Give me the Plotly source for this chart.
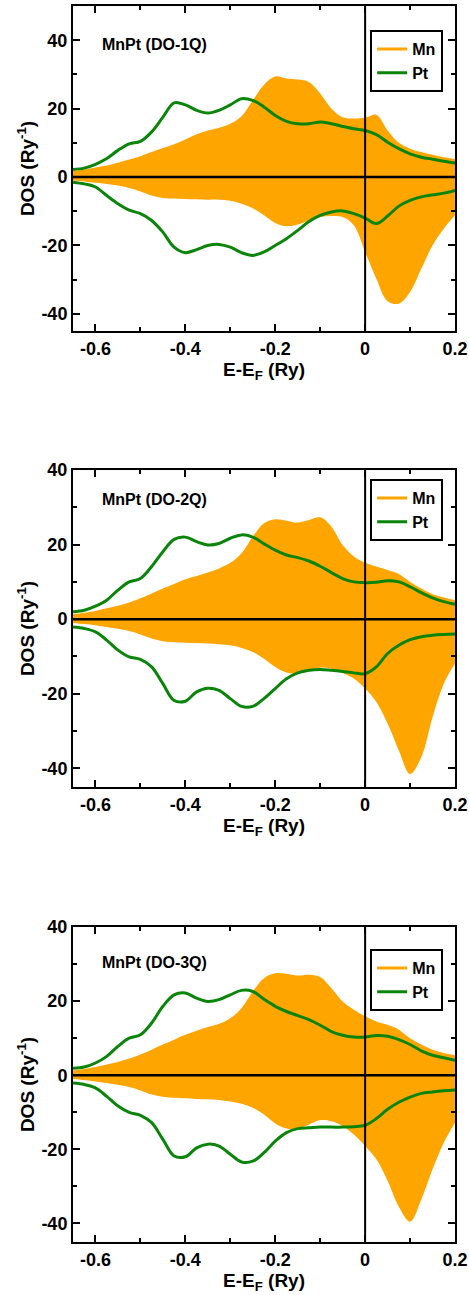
import plotly.graph_objects as go

# Energy grid (Ry, relative to E_F)
energy = [-0.65, -0.625, -0.6, -0.575, -0.55, -0.525, -0.5, -0.475, -0.45, -0.425,
          -0.4, -0.375, -0.35, -0.325, -0.3, -0.275, -0.25, -0.225, -0.2, -0.175,
          -0.15, -0.125, -0.1, -0.075, -0.05, -0.025, 0.0, 0.025, 0.05, 0.075,
          0.1, 0.125, 0.15, 0.175, 0.2]

# DO-1Q
mn_up_1 = [1.8, 2.2, 2.8, 3.4, 4.2, 5.1, 6.1, 7.3, 8.5, 9.6,
           11.0, 12.5, 13.6, 14.4, 15.6, 17.8, 22.4, 27.0, 29.4, 28.8,
           28.5, 27.8, 24.4, 20.0, 17.5, 17.1, 17.3, 18.2, 13.6, 10.0,
           8.3, 7.3, 6.5, 5.8, 5.3]
mn_dn_1 = [-1.0, -1.3, -1.7, -2.0, -2.5, -3.2, -4.2, -5.4, -6.1, -6.3,
           -6.4, -6.5, -6.6, -6.6, -6.9, -7.8, -9.1, -11.2, -13.4, -14.4,
           -13.9, -12.7, -11.7, -11.4, -11.7, -14.1, -21.9, -29.7, -36.3, -37.0,
           -33.6, -26.8, -20.0, -15.1, -11.2]
pt_up_1 = [2.2, 2.6, 3.7, 5.4, 7.8, 9.7, 10.4, 13.2, 17.5, 21.7,
           21.1, 19.5, 18.7, 19.5, 21.1, 22.9, 22.4, 20.5, 18.0, 16.3,
           15.6, 15.6, 16.1, 15.6, 14.8, 14.1, 13.6, 12.4, 10.2, 8.3,
           6.8, 5.8, 5.2, 4.6, 4.1]
pt_dn_1 = [-1.5, -2.0, -2.9, -5.4, -7.8, -9.7, -10.7, -12.7, -16.1, -20.5,
           -22.1, -21.2, -20.0, -19.7, -20.5, -22.1, -22.9, -21.9, -20.0, -18.0,
           -15.6, -13.0, -11.2, -10.2, -9.9, -10.7, -12.0, -13.6, -11.4, -8.5,
           -6.8, -5.8, -5.2, -4.7, -3.9]

# DO-2Q
mn_up_2 = [1.3, 1.7, 2.2, 2.9, 3.6, 4.5, 5.6, 6.9, 8.2, 9.4,
           10.7, 11.6, 12.5, 13.6, 15.1, 17.7, 22.1, 25.7, 26.8, 26.4,
           25.9, 26.6, 27.3, 24.8, 19.9, 16.8, 15.1, 14.1, 13.2, 12.1,
           10.0, 8.2, 6.7, 5.8, 5.1]
mn_dn_2 = [-1.0, -1.3, -1.6, -2.1, -2.6, -3.2, -4.1, -5.2, -5.9, -6.2,
           -6.3, -6.4, -6.5, -6.7, -7.0, -7.7, -8.8, -10.6, -12.8, -14.3,
           -14.6, -13.7, -13.0, -13.3, -14.4, -15.9, -18.6, -22.2, -28.0, -35.2,
           -41.5, -37.0, -26.3, -17.3, -11.9]
pt_up_2 = [2.0, 2.4, 3.5, 5.1, 7.8, 10.0, 10.9, 14.1, 18.1, 21.4,
           22.0, 20.8, 19.9, 20.3, 21.7, 22.6, 22.0, 20.2, 18.5, 17.2,
           16.5, 15.6, 14.2, 12.5, 10.9, 10.0, 9.8, 9.9, 10.3, 10.0,
           8.7, 7.1, 5.7, 4.7, 4.0]
pt_dn_2 = [-2.1, -2.5, -3.4, -5.6, -8.3, -10.1, -10.8, -12.8, -17.3, -21.8,
           -22.0, -19.5, -18.5, -19.1, -21.3, -23.4, -23.4, -21.3, -18.6, -16.0,
           -14.4, -13.7, -13.5, -13.7, -14.0, -14.4, -14.6, -12.8, -9.2, -7.0,
           -5.5, -4.7, -4.3, -4.1, -4.0]

# DO-3Q
mn_up_3 = [1.3, 1.7, 2.2, 2.9, 3.6, 4.5, 5.6, 6.9, 8.3, 9.6,
           10.9, 12.0, 13.0, 13.9, 15.4, 18.1, 22.6, 26.2, 27.5, 27.4,
           26.9, 27.1, 26.5, 23.5, 19.9, 17.7, 15.9, 14.5, 13.6, 12.3,
           10.0, 8.3, 6.9, 6.0, 5.4]
mn_dn_3 = [-1.0, -1.3, -1.7, -2.1, -2.6, -3.2, -4.1, -5.2, -5.8, -6.1,
           -6.2, -6.4, -6.5, -6.7, -7.1, -7.7, -8.8, -10.6, -13.0, -14.4,
           -14.4, -13.3, -12.1, -12.4, -13.7, -16.0, -19.1, -22.7, -28.5, -35.5,
           -39.5, -33.5, -25.4, -18.2, -12.8]
pt_up_3 = [1.9, 2.2, 3.3, 5.1, 7.8, 10.0, 10.9, 14.1, 18.6, 21.7,
           22.2, 20.8, 19.9, 20.4, 21.7, 22.9, 22.6, 20.5, 18.6, 17.2,
           16.1, 15.0, 13.5, 11.8, 10.8, 10.3, 10.3, 10.7, 10.5, 9.6,
           8.3, 6.6, 5.4, 4.7, 4.0]
pt_dn_3 = [-2.1, -2.5, -3.4, -5.7, -8.3, -10.0, -10.8, -12.8, -17.3, -21.8,
           -22.0, -19.6, -18.6, -19.1, -21.3, -23.4, -23.2, -20.9, -17.8, -15.5,
           -14.4, -14.2, -14.0, -14.0, -14.0, -13.9, -13.5, -11.7, -9.2, -7.3,
           -5.9, -4.9, -4.5, -4.2, -4.0]

titles = ["MnPt (DO-1Q)", "MnPt (DO-2Q)", "MnPt (DO-3Q)"]

# Axis ticks
x_ticks = [-0.6, -0.4, -0.2, 0.0, 0.2]
x_ticklabels = ["-0.6", "-0.4", "-0.2", "0", "0.2"]
x_minor = [-0.5, -0.3, -0.1, 0.1]
y_ticks = [-40, -20, 0, 20, 40]
y_ticklabels = ["-40", "-20", "0", "20", "40"]
y_minor = [-30, -10, 10, 30]

panels = [
    (mn_up_1, mn_dn_1, pt_up_1, pt_dn_1),
    (mn_up_2, mn_dn_2, pt_up_2, pt_dn_2),
    (mn_up_3, mn_dn_3, pt_up_3, pt_dn_3),
]
y_ranges = [[-45, 50], [-45, 40], [-45, 40]]

ORANGE = "#FFA500"
GREEN = "#0a850a"
FONT = "Liberation Sans"

W, H = 469, 1295
L, R, T, B = 73, 14, 6, 53
plot_h = H - T - B
# pixel rows (top, bottom) of each panel's plotting area
rows_px = [(6, 331), (470, 787), (927, 1242)]
domains = [[(H - B - b) / plot_h, (H - B - t) / plot_h] for t, b in rows_px]
legend_tops = [30, 479, 949]
label_y = [0.88, 0.908, 0.886]

fig = go.Figure()
layout = dict(
    width=W, height=H,
    margin=dict(l=L, r=R, t=T, b=B, autoexpand=False),
    paper_bgcolor="white", plot_bgcolor="white",
    font=dict(family=FONT, color="black"),
    showlegend=True,
    shapes=[], annotations=[],
)

for i, (mn_up, mn_dn, pt_up, pt_dn) in enumerate(panels):
    n = "" if i == 0 else str(i + 1)
    xa, ya = "x" + n, "y" + n
    leg = "legend" + n
    for ys in (mn_up, mn_dn):
        fig.add_trace(go.Scatter(
            x=energy, y=ys, mode="lines", line=dict(width=0, shape="spline", color=ORANGE),
            fill="tozeroy", fillcolor=ORANGE, showlegend=False, hoverinfo="skip",
            xaxis=xa, yaxis=ya))
    for ys in (pt_up, pt_dn):
        fig.add_trace(go.Scatter(
            x=energy, y=ys, mode="lines", line=dict(width=3, shape="spline", color=GREEN),
            showlegend=False, xaxis=xa, yaxis=ya))
    # legend entries
    fig.add_trace(go.Scatter(x=[None], y=[None], mode="lines", name="Mn",
                             line=dict(color=ORANGE, width=3), legend=leg,
                             xaxis=xa, yaxis=ya))
    fig.add_trace(go.Scatter(x=[None], y=[None], mode="lines", name="Pt",
                             line=dict(color=GREEN, width=3), legend=leg,
                             xaxis=xa, yaxis=ya))

    axis_common = dict(
        showline=True, linecolor="black", linewidth=2, mirror="allticks",
        ticks="inside", ticklen=7, tickwidth=2, tickcolor="black",
        showgrid=False, zeroline=False, tickmode="array", automargin=False,
        tickfont=dict(family=FONT, size=18, weight="bold"),
    )
    minor_common = dict(ticks="inside", ticklen=4, tickwidth=1.5, tickcolor="black",
                        showgrid=False)
    layout["xaxis" + n] = dict(
        axis_common, domain=[0, 1], anchor=ya, range=[-0.65, 0.2],
        tickvals=x_ticks, ticktext=x_ticklabels,
        minor=dict(minor_common, tickvals=x_minor),
        title=dict(text="E-E<sub>F</sub> (Ry)", font=dict(family=FONT, size=19, weight="bold"), standoff=0),
    )
    layout["yaxis" + n] = dict(
        axis_common, domain=domains[i], anchor=xa, range=y_ranges[i],
        tickvals=y_ticks, ticktext=y_ticklabels,
        minor=dict(minor_common, tickvals=y_minor),
        title=dict(text="DOS (Ry<sup>-1</sup>)", font=dict(family=FONT, size=19, weight="bold"), standoff=2),
    )
    layout[leg] = dict(
        x=0.969, xanchor="right",
        y=(H - B - legend_tops[i]) / plot_h, yanchor="top", yref="paper", xref="paper",
        bordercolor="black", borderwidth=2, bgcolor="white",
        font=dict(family=FONT, size=16, weight="bold"),
        itemwidth=30, tracegroupgap=0,
    )
    xr = xa + " domain"
    layout["shapes"] += [
        dict(type="line", xref=xr, yref=ya, x0=0, x1=1, y0=0, y1=0,
             line=dict(color="black", width=2.5), layer="above"),
        dict(type="line", xref=xa, yref=ya + " domain", x0=0, x1=0, y0=0, y1=1,
             line=dict(color="black", width=2), layer="above"),
    ]
    layout["annotations"].append(dict(
        text=titles[i], xref=xr, yref=ya + " domain", x=0.071, y=label_y[i],
        xanchor="left", yanchor="middle", showarrow=False,
        font=dict(family=FONT, size=16, weight="bold")))

fig.update_layout(**layout)
fig.write_html("out.html")
